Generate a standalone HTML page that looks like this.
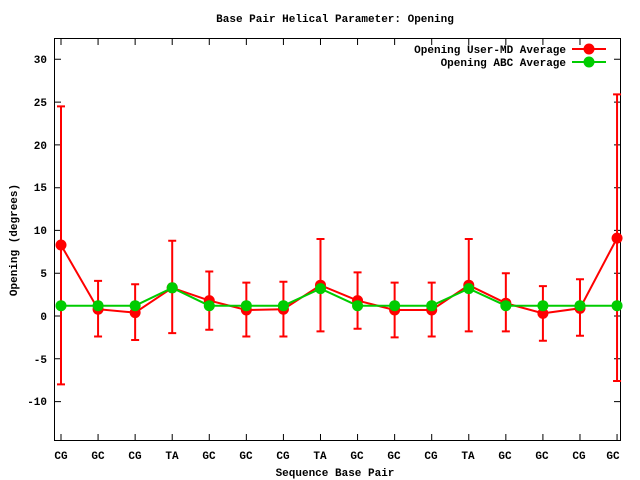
<!DOCTYPE html><html><head><style>body{margin:0;background:#fff}svg{display:block}text{font-family:"Liberation Mono",monospace;font-weight:bold;font-size:11px;fill:#000}</style></head><body>
<svg width="640" height="480" xmlns="http://www.w3.org/2000/svg">
<rect x="54.5" y="38.5" width="566" height="402" fill="none" stroke="#000"/>
<text x="335" y="22" text-anchor="middle">Base Pair Helical Parameter: Opening</text>
<text x="335" y="476" text-anchor="middle">Sequence Base Pair</text>
<text transform="translate(17,240) rotate(-90)" text-anchor="middle">Opening (degrees)</text>
<g stroke="#000">
<path d="M55 59.3h6M55 102.1h6M55 144.9h6M55 187.7h6M55 230.4h6M55 273.2h6M55 316h6M55 358.8h6M55 401.6h6M614 59.3h6M614 102.1h6M614 144.9h6M614 187.7h6M614 230.4h6M614 273.2h6M614 316h6M614 358.8h6M614 401.6h6"/>
<path d="M61 440v-6M98.07 440v-6M135.14 440v-6M172.21 440v-6M209.28 440v-6M246.35 440v-6M283.42 440v-6M320.49 440v-6M357.56 440v-6M394.63 440v-6M431.7 440v-6M468.77 440v-6M505.84 440v-6M542.91 440v-6M579.98 440v-6M617.05 440v-6M61 39v6M98.07 39v6M135.14 39v6M172.21 39v6M209.28 39v6M246.35 39v6M283.42 39v6M320.49 39v6M357.56 39v6M394.63 39v6M431.7 39v6M468.77 39v6M505.84 39v6M542.91 39v6M579.98 39v6"/>
</g>
<g text-anchor="end">
<text x="47" y="63">30</text><text x="47" y="106">25</text><text x="47" y="149">20</text><text x="47" y="191">15</text><text x="47" y="234">10</text><text x="47" y="277">5</text><text x="47" y="320">0</text><text x="47" y="363">-5</text><text x="47" y="405">-10</text>
</g>
<g text-anchor="middle">
<text x="61" y="459">CG</text><text x="98" y="459">GC</text><text x="135" y="459">CG</text><text x="172" y="459">TA</text><text x="209" y="459">GC</text><text x="246" y="459">GC</text><text x="283" y="459">CG</text><text x="320" y="459">TA</text><text x="357" y="459">GC</text><text x="394" y="459">GC</text><text x="431" y="459">CG</text><text x="468" y="459">TA</text><text x="505" y="459">GC</text><text x="542" y="459">GC</text><text x="579" y="459">CG</text><text x="613" y="459">GC</text>
</g>
<path fill="none" stroke="#f00" stroke-width="2" d="
M61 106.4V384.4M57 106.4h8M57 384.4h8
M98.07 280.9V336.5M94.07 280.9h8M94.07 336.5h8
M135.14 284.3V340M131.14 284.3h8M131.14 340h8
M172.21 240.7V333.1M168.21 240.7h8M168.21 333.1h8
M209.28 271.5V329.7M205.28 271.5h8M205.28 329.7h8
M246.35 282.6V336.5M242.35 282.6h8M242.35 336.5h8
M283.42 281.8V336.5M279.42 281.8h8M279.42 336.5h8
M320.49 239V331.4M316.49 239h8M316.49 331.4h8
M357.56 272.4V328.8M353.56 272.4h8M353.56 328.8h8
M394.63 282.6V337.4M390.63 282.6h8M390.63 337.4h8
M431.7 282.6V336.5M427.7 282.6h8M427.7 336.5h8
M468.77 239V331.4M464.77 239h8M464.77 331.4h8
M505.84 273.2V331.4M501.84 273.2h8M501.84 331.4h8
M542.91 286.1V340.8M538.91 286.1h8M538.91 340.8h8
M579.98 279.2V335.7M575.98 279.2h8M575.98 335.7h8
M617.05 94.4V381M613.05 94.4h8M613.05 381h8"/>
<polyline fill="none" stroke="#f00" stroke-width="2" points="61,245 98.07,309.2 135.14,312.6 172.21,287.8 209.28,300.6 246.35,310 283.42,309.2 320.49,285.2 357.56,300.6 394.63,310 431.7,310 468.77,285.2 505.84,303.2 542.91,313.4 579.98,308.3 617.05,238.1"/>
<g fill="#f00">
<circle cx="61" cy="245" r="5.5"/><circle cx="98.07" cy="309.2" r="5.5"/><circle cx="135.14" cy="312.6" r="5.5"/><circle cx="172.21" cy="287.8" r="5.5"/><circle cx="209.28" cy="300.6" r="5.5"/><circle cx="246.35" cy="310" r="5.5"/><circle cx="283.42" cy="309.2" r="5.5"/><circle cx="320.49" cy="285.2" r="5.5"/><circle cx="357.56" cy="300.6" r="5.5"/><circle cx="394.63" cy="310" r="5.5"/><circle cx="431.7" cy="310" r="5.5"/><circle cx="468.77" cy="285.2" r="5.5"/><circle cx="505.84" cy="303.2" r="5.5"/><circle cx="542.91" cy="313.4" r="5.5"/><circle cx="579.98" cy="308.3" r="5.5"/><circle cx="617.05" cy="238.1" r="5.5"/>
</g>
<polyline fill="none" stroke="#0c0" stroke-width="2" points="61,305.7 98.07,305.7 135.14,305.7 172.21,287.8 209.28,305.7 246.35,305.7 283.42,305.7 320.49,288.6 357.56,305.7 394.63,305.7 431.7,305.7 468.77,288.6 505.84,305.7 542.91,305.7 579.98,305.7 617.05,305.7"/>
<g fill="#0c0">
<circle cx="61" cy="305.7" r="5.5"/><circle cx="98.07" cy="305.7" r="5.5"/><circle cx="135.14" cy="305.7" r="5.5"/><circle cx="172.21" cy="287.8" r="5.5"/><circle cx="209.28" cy="305.7" r="5.5"/><circle cx="246.35" cy="305.7" r="5.5"/><circle cx="283.42" cy="305.7" r="5.5"/><circle cx="320.49" cy="288.6" r="5.5"/><circle cx="357.56" cy="305.7" r="5.5"/><circle cx="394.63" cy="305.7" r="5.5"/><circle cx="431.7" cy="305.7" r="5.5"/><circle cx="468.77" cy="288.6" r="5.5"/><circle cx="505.84" cy="305.7" r="5.5"/><circle cx="542.91" cy="305.7" r="5.5"/><circle cx="579.98" cy="305.7" r="5.5"/><circle cx="617.05" cy="305.7" r="5.5"/>
</g>
<text x="566" y="53" text-anchor="end">Opening User-MD Average</text>
<line x1="572" x2="606" y1="49" y2="49" stroke="#f00" stroke-width="2"/><circle cx="589" cy="49" r="5.5" fill="#f00"/>
<text x="566" y="66" text-anchor="end">Opening ABC Average</text>
<line x1="572" x2="606" y1="62" y2="62" stroke="#0c0" stroke-width="2"/><circle cx="589" cy="62" r="5.5" fill="#0c0"/>
</svg></body></html>
